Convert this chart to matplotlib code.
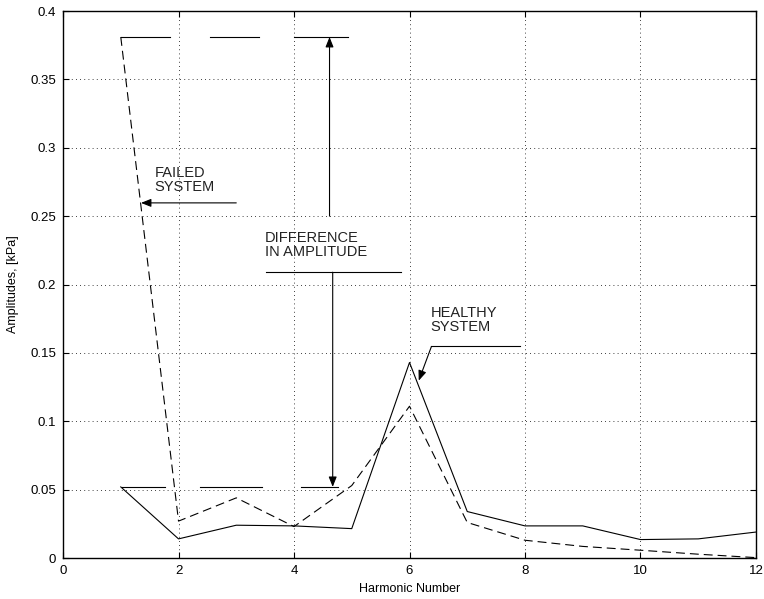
import matplotlib
matplotlib.use("Agg")
import matplotlib.pyplot as plt

plt.rcParams['font.family'] = ['Liberation Sans', 'DejaVu Sans']

# harmonic amplitudes
harmonics = [1, 2, 3, 4, 5, 6, 7, 8, 9, 10, 11, 12]
healthy = [0.052, 0.014, 0.024, 0.0235, 0.0215, 0.143, 0.034, 0.0235, 0.0235, 0.0135, 0.014, 0.019]
failed = [0.381, 0.027, 0.044, 0.023, 0.053, 0.111, 0.026, 0.013, 0.0085, 0.0057, 0.0028, 0.0003]

xticks = [0, 2, 4, 6, 8, 10, 12]
yticks = [0, 0.05, 0.1, 0.15, 0.2, 0.25, 0.3, 0.35, 0.4]
ytick_labels = ['0', '0.05', '0.1', '0.15', '0.2', '0.25', '0.3', '0.35', '0.4']

# broken guide lines marking the two first-harmonic levels
top_level = failed[0]
bottom_level = healthy[0]
top_pieces = [(1.0, 1.85), (2.55, 3.4), (4.0, 4.94)]
bottom_pieces = [(1.02, 1.77), (2.37, 3.44), (4.12, 4.77)]

fig = plt.figure(figsize=(7.64, 5.99), dpi=100)
ax = fig.add_axes([0.0825, 0.0684, 0.907, 0.9132])

ax.plot(harmonics, healthy, color='k', lw=0.8)
ax.plot(harmonics, failed, color='k', lw=0.8, linestyle=(0, (8, 4.5)))

for a, b in top_pieces:
    ax.plot([a, b], [top_level, top_level], color='k', lw=0.8)
for a, b in bottom_pieces:
    ax.plot([a, b], [bottom_level, bottom_level], color='k', lw=0.8)

arrow = dict(arrowstyle='-|>,head_length=0.55,head_width=0.22', mutation_scale=11,
             lw=0.8, color='k', shrinkA=0, shrinkB=0)
fs = 10.5

# failed system
ax.text(1.58, 0.2665, 'FAILED\nSYSTEM', fontsize=fs, color='#222222',
        ha='left', va='bottom', linespacing=1.0)
ax.annotate('', xy=(1.35, 0.2597), xytext=(3.0, 0.2597), arrowprops=arrow)

# difference in amplitude
ax.text(3.49, 0.2185, 'DIFFERENCE\nIN AMPLITUDE', fontsize=fs, color='#222222',
        ha='left', va='bottom', linespacing=1.0)
ax.plot([3.51, 5.86], [0.209, 0.209], color='k', lw=0.8)
ax.annotate('', xy=(4.615, top_level), xytext=(4.615, 0.25), arrowprops=arrow)
ax.annotate('', xy=(4.67, bottom_level), xytext=(4.67, 0.209), arrowprops=arrow)

# healthy system
ax.text(6.36, 0.1635, 'HEALTHY\nSYSTEM', fontsize=fs, color='#222222',
        ha='left', va='bottom', linespacing=1.0)
ax.plot([6.38, 7.91], [0.1547, 0.1547], color='k', lw=0.8)
ax.annotate('', xy=(6.16, 0.1297), xytext=(6.38, 0.1547), arrowprops=arrow)

ax.set_xlim(0, 12)
ax.set_ylim(0, 0.4)
ax.set_xticks(xticks)
ax.set_yticks(yticks)
ax.set_yticklabels(ytick_labels)
ax.tick_params(direction='in', top=True, right=True, labelsize=9.5, length=4,
               width=0.8, pad=5)
ax.grid(True, linestyle=(0, (1, 4)), color='k', lw=0.6)
for s in ax.spines.values():
    s.set_linewidth(1.0)

ax.set_xlabel('Harmonic Number', fontsize=9, labelpad=4)
ax.set_ylabel('Amplitudes, [kPa]', fontsize=9, labelpad=8)

fig.savefig('out.png', dpi=100)
